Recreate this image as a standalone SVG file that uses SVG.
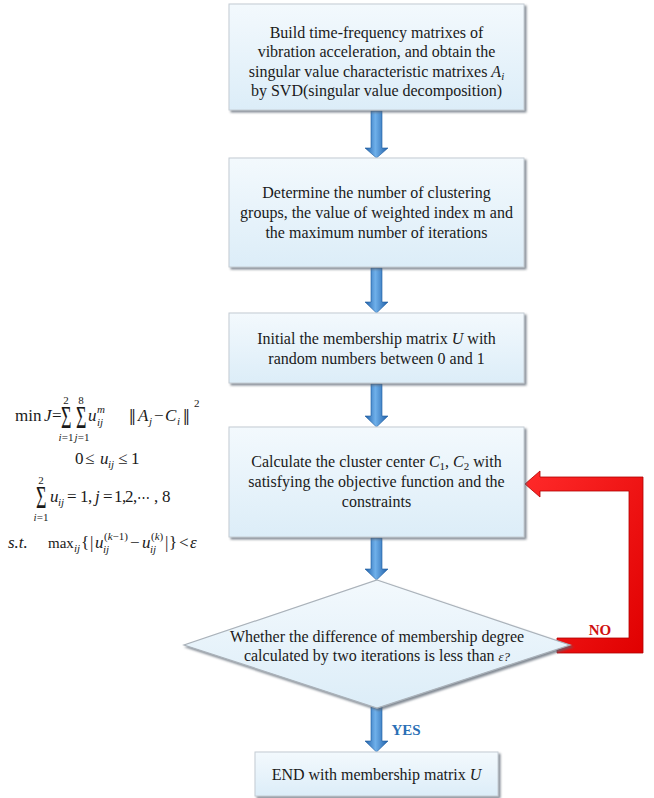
<svg xmlns="http://www.w3.org/2000/svg" width="654" height="798" viewBox="0 0 654 798">
<defs>
<linearGradient id="boxg" x1="0" y1="0" x2="0" y2="1">
<stop offset="0" stop-color="#f3f9fd"/>
<stop offset="1" stop-color="#dcedf8"/>
</linearGradient>
<linearGradient id="bluea" x1="0" y1="0" x2="1" y2="0">
<stop offset="0" stop-color="#1f5fa8"/>
<stop offset="0.45" stop-color="#6fb0ea"/>
<stop offset="1" stop-color="#1f5fa8"/>
</linearGradient>
<linearGradient id="reda" x1="0" y1="0" x2="1" y2="1">
<stop offset="0" stop-color="#ff2a2a"/>
<stop offset="1" stop-color="#e00000"/>
</linearGradient>
<filter id="sh" x="-10%" y="-10%" width="125%" height="130%">
<feDropShadow dx="2" dy="2" stdDeviation="1.2" flood-color="#5a6470" flood-opacity="0.75"/>
</filter>
</defs>
<style>
.box{fill:url(#boxg);stroke:#c4ccd4;stroke-width:1;filter:url(#sh)}
.t{font-family:"Liberation Serif","Times New Roman",serif;font-size:16px;fill:#1a1a1a;text-anchor:middle}
.m{font-family:"Liberation Serif","DejaVu Serif",serif;font-size:17px;fill:#1a1a1a}
.s{font-size:11px}
.sig{font-size:30px}
.nb{font-size:24px}
.i{font-style:italic}
.ba{fill:url(#bluea);stroke:#1d5a9e;stroke-width:0.6}
.lbl{font-family:"Liberation Serif","Times New Roman",serif;font-weight:bold;font-size:15px}
</style>

<g id="connectors">
<path class="ba" d="M371,111 L382,111 L382,148 L388,148 L376.5,158 L365,148 L371,148 Z"/>
<path class="ba" d="M371,268 L382,268 L382,302 L388,302 L376.5,313 L365,302 L371,302 Z"/>
<path class="ba" d="M371,384 L382,384 L382,416 L388,416 L376.5,427 L365,416 L371,416 Z"/>
<path class="ba" d="M371,538 L382,538 L382,569 L388,569 L376.5,580 L365,569 L371,569 Z"/>
<path class="ba" d="M371,706 L382,706 L382,741 L388,741 L376.5,752 L365,741 L371,741 Z"/>
<path d="M525,484 L540,471 L540,477 L643,477 L643,653 L557,653 L557,638 L629,638 L629,491 L540,491 L540,497 Z" fill="url(#reda)" stroke="#b00000" stroke-width="0.8"/>
<text class="lbl" x="600" y="635" text-anchor="middle" fill="#d01010">NO</text>
<text class="lbl" x="406" y="735" text-anchor="middle" fill="#2a6fb5">YES</text>
</g>

<g id="n1">
<rect class="box" x="229" y="4" width="295" height="106"/>
<text class="t" x="376.5" y="38">Build time-frequency matrixes of</text>
<text class="t" x="376.5" y="57">vibration acceleration, and obtain the</text>
<text class="t" x="376.5" y="77">singular value characteristic matrixes <tspan class="i">A</tspan><tspan class="i" font-size="11" dy="3">i</tspan></text>
<text class="t" x="376.5" y="96">by SVD(singular value decomposition)</text>
</g>

<g id="n2">
<rect class="box" x="229" y="158" width="295" height="109"/>
<text class="t" x="376.5" y="198">Determine the number of clustering</text>
<text class="t" x="376.5" y="218">groups, the value of weighted index m and</text>
<text class="t" x="376.5" y="238">the maximum number of iterations</text>
</g>

<g id="n3">
<rect class="box" x="229" y="313" width="295" height="70"/>
<text class="t" x="376.5" y="344">Initial the membership matrix <tspan class="i">U</tspan> with</text>
<text class="t" x="376.5" y="364">random numbers between 0 and 1</text>
</g>

<g id="n4">
<rect class="box" x="229" y="427" width="295" height="110"/>
<text class="t" x="376.5" y="467">Calculate the cluster center <tspan class="i">C</tspan><tspan font-size="11" dy="3">1</tspan><tspan dy="-3">, </tspan><tspan class="i">C</tspan><tspan font-size="11" dy="3">2</tspan><tspan dy="-3"> with</tspan></text>
<text class="t" x="376.5" y="487">satisfying the objective function and the</text>
<text class="t" x="376.5" y="507">constraints</text>
</g>

<g id="n5">
<polygon points="377,580 570,645 377,708 184,645" fill="url(#boxg)" stroke="#aab2ba" stroke-width="1.2" filter="url(#sh)"/>
<text class="t" x="377" y="642">Whether the difference of membership degree</text>
<text class="t" x="377" y="661">calculated by two iterations is less than <tspan class="i" font-size="13">ε?</tspan></text>
</g>

<g id="n6">
<rect class="box" x="255" y="752" width="243" height="44"/>
<text class="t" x="376.5" y="780">END with membership matrix <tspan class="i">U</tspan></text>
</g>

<g id="formulas">
<text class="m" x="15" y="421">min</text>
<text class="m i" x="44" y="421">J</text>
<text class="m" x="52" y="421">=</text>
<text class="m sig" transform="translate(61,428) scale(0.6,1.05)">Σ</text>
<text class="m s" x="66" y="404" text-anchor="middle">2</text>
<text class="m s" x="66" y="441" text-anchor="middle"><tspan class="i">i</tspan>=1</text>
<text class="m sig" transform="translate(76,428) scale(0.6,1.05)">Σ</text>
<text class="m s" x="81" y="404" text-anchor="middle">8</text>
<text class="m s" x="82" y="441" text-anchor="middle"><tspan class="i">j</tspan>=1</text>
<text class="m i" x="88" y="421">u</text>
<text class="m s i" x="97" y="413">m</text>
<text class="m s i" x="97" y="426">ij</text>
<text class="m nb" x="129" y="425">‖</text>
<text class="m i" x="138" y="421">A</text>
<text class="m s i" x="149" y="425">j</text>
<text class="m" x="154" y="421">−</text>
<text class="m i" x="165" y="421">C</text>
<text class="m s i" x="177" y="425">i</text>
<text class="m nb" x="183" y="425">‖</text>
<text class="m s" x="194" y="407">2</text>

<text class="m" x="75" y="464">0</text>
<text class="m" x="85" y="464">≤</text>
<text class="m i" x="100" y="464">u</text>
<text class="m s i" x="108" y="468">ij</text>
<text class="m" x="118" y="464">≤</text>
<text class="m" x="131" y="464">1</text>

<text class="m sig" transform="translate(36,508) scale(0.6,1.05)">Σ</text>
<text class="m s" x="41" y="484" text-anchor="middle">2</text>
<text class="m s" x="41" y="521" text-anchor="middle"><tspan class="i">i</tspan>=1</text>
<text class="m i" x="50" y="502">u</text>
<text class="m s i" x="58" y="506">ij</text>
<text class="m" x="67" y="502">=</text>
<text class="m" x="80" y="502">1</text>
<text class="m" x="88" y="502">,</text>
<text class="m i" x="95" y="502">j</text>
<text class="m" x="103" y="502">=</text>
<text class="m" x="114" y="502">1</text>
<text class="m" x="122" y="502">,</text>
<text class="m" x="125" y="502">2</text>
<text class="m" x="133" y="502">,</text>
<text class="m" x="137" y="502" style="font-size:13px">⋯</text>
<text class="m" x="154" y="502">,</text>
<text class="m" x="162" y="502">8</text>

<text class="m i" x="8" y="548">s.t.</text>
<text class="m" x="48" y="548" style="font-size:15px">max</text>
<text class="m s i" x="74" y="552">ij</text>
<text class="m" x="81" y="548">{</text>
<text class="m" x="90" y="548">|</text>
<text class="m i" x="95" y="548">u</text>
<text class="m s" x="104" y="540">(<tspan class="i">k</tspan>−1)</text>
<text class="m s i" x="103" y="553">ij</text>
<text class="m" x="130" y="548">−</text>
<text class="m i" x="142" y="548">u</text>
<text class="m s" x="151" y="540">(<tspan class="i">k</tspan>)</text>
<text class="m s i" x="150" y="553">ij</text>
<text class="m" x="165" y="548">|</text>
<text class="m" x="169" y="548">}</text>
<text class="m" x="179" y="548">&lt;</text>
<text class="m i" x="190" y="548">ε</text>
</g>
</svg>
